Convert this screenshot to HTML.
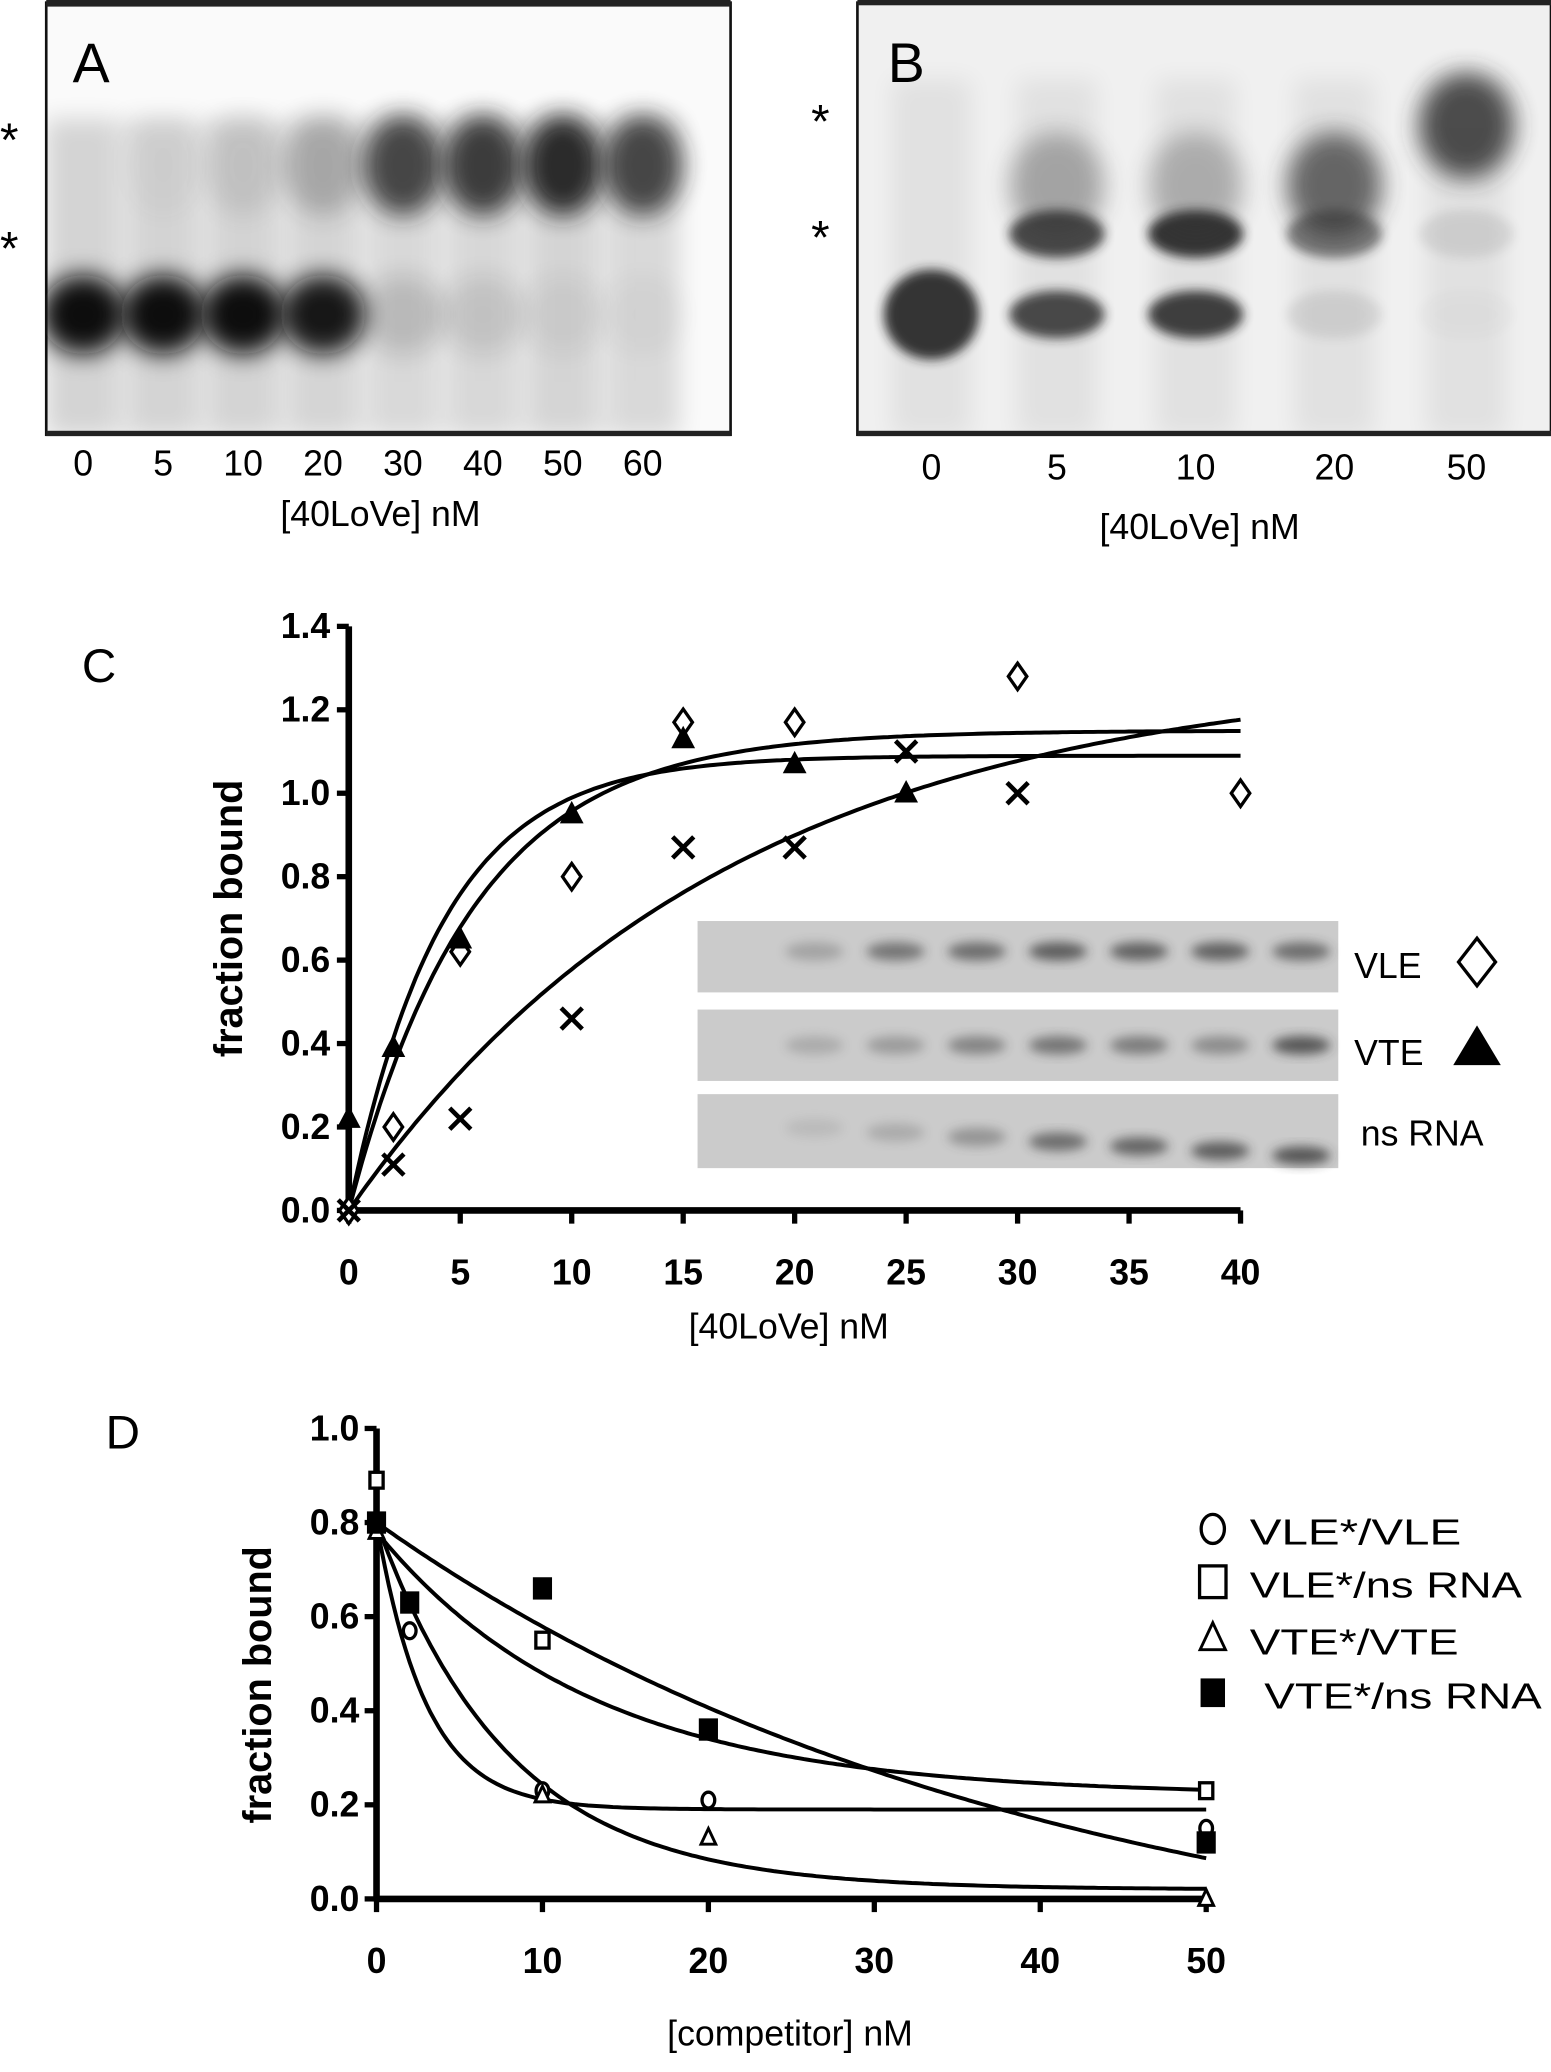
<!DOCTYPE html>
<html><head><meta charset="utf-8"><style>
html,body{margin:0;padding:0;background:#fff;}
svg{display:block;}
text{font-family:"Liberation Sans",sans-serif;}
.tk{font-family:"Liberation Sans Narrow","Liberation Sans",sans-serif;font-weight:bold;font-size:27px;}
.lb{font-family:"Liberation Sans Narrow","Liberation Sans",sans-serif;font-size:27px;}
</style></head><body>
<svg id="fig" width="1551" height="2072" viewBox="0 0 1174 1568" preserveAspectRatio="none" xmlns="http://www.w3.org/2000/svg">
<defs>
<filter id="b1" x="-50%" y="-50%" width="200%" height="200%"><feGaussianBlur stdDeviation="9"/></filter>
<filter id="b2" x="-50%" y="-50%" width="200%" height="200%"><feGaussianBlur stdDeviation="4"/></filter>
<clipPath id="clipA"><rect x="35" y="4" width="518" height="324"/></clipPath>
<clipPath id="clipB"><rect x="649" y="4" width="525" height="324"/></clipPath>
</defs>
<rect width="1174" height="1568" fill="#fff"/>
<g id="panelA"></g>
<g id="panelB"></g>
<g id="panelC"></g>
<g id="panelD"></g>
</svg>
<script>
// ---- Gel data ----
const gelALanes = ["0","5","10","20","30","40","50","60"];
const gelAFree = [1, 1, 1, 0.95, 0.15, 0.1, 0.05, 0.03];
const gelABound = [0, 0.03, 0.1, 0.25, 0.8, 0.85, 0.95, 0.8];
const gelBLanes = ["0","5","10","20","50"];
const gelBFree = [0.9, 0.8, 0.85, 0.1, 0.02];
const gelBMid = [0, 0.8, 0.9, 0.55, 0.1];
const gelBTop = [0, 0.35, 0.3, 0.7, 0.85];
// ---- Chart C data ----
const cXTicks = [0,5,10,15,20,25,30,35,40];
const cYTicks = ["0.0","0.2","0.4","0.6","0.8","1.0","1.2","1.4"];
const vleX = [0,2,5,10,15,20,30,40];
const vleY = [0,0.2,0.62,0.8,1.17,1.17,1.28,1.0];
const vteX = [0,2,5,10,15,20,25];
const vteY = [0.22,0.39,0.65,0.95,1.13,1.07,1.0];
const nsX = [0,2,5,10,15,20,25,30];
const nsY = [0,0.11,0.22,0.46,0.87,0.87,1.1,1.0];
const cFitBmax = [1.15, 1.09, 1.3];
const cFitTau = [5.6, 4.2, 17];
const insetVLE = [0,0.25,0.55,0.6,0.7,0.68,0.68,0.6];
const insetVTE = [0,0.2,0.3,0.45,0.55,0.5,0.4,0.75];
const insetNS = [0,0.1,0.2,0.35,0.6,0.65,0.7,0.75];
// ---- Chart D data ----
const dXTicks = [0,10,20,30,40,50];
const dYTicks = ["0.0","0.2","0.4","0.6","0.8","1.0"];
const circX = [2,10,20,50];
const circY = [0.57,0.23,0.21,0.15];
const osqX = [0,10,50];
const osqY = [0.89,0.55,0.23];
const triX = [0,10,20,50];
const triY = [0.78,0.22,0.13,0.0];
const fsqX = [0,2,10,20,50];
const fsqY = [0.8,0.63,0.66,0.36,0.12];
const dFitTop = [0.8, 0.8, 0.78, 0.8];
const dFitBottom = [0.19, 0.02, 0.22, -0.2];
const dFitTau = [3.0, 8.0, 13.0, 40.0];
const legendLabels = ["VLE*/VLE","VLE*/ns RNA","VTE*/VTE","VTE*/ns RNA"];

const NS="http://www.w3.org/2000/svg";
function mk(tag, attrs, parent, txt){const e=document.createElementNS(NS,tag);for(const k in attrs)e.setAttribute(k,attrs[k]);if(txt!==undefined)e.textContent=txt;parent.appendChild(e);return e;}

// ---- Gel A ----
const gA=document.getElementById('panelA');
mk('rect',{x:35,y:2,width:518,height:327,fill:'#fafafa',stroke:'#111','stroke-width':2},gA);
const gAc=mk('g',{'clip-path':'url(#clipA)'},gA);
const aX0=63, aDX=60.5;
const aLaneX=i=>aX0+i*aDX;
gelALanes.forEach((l,i)=>{
  const x=aLaneX(i);
  const sm=mk('rect',{x:x-28,y:90,width:56,height:240,fill:'#000',opacity:0.05+0.1*Math.max(gelAFree[i],gelABound[i]),filter:'url(#b1)'},gAc);
  
  
  const f=mk('ellipse',{cx:x,cy:238,rx:32,ry:30,fill:'#111',opacity:gelAFree[i],filter:'url(#b1)'},gAc);
  
  
  const b=mk('ellipse',{cx:x,cy:125,rx:30,ry:38,fill:'#222',opacity:gelABound[i],filter:'url(#b1)'},gAc);
  
  
  const t=mk('text',{x:x,y:360,'text-anchor':'middle',class:'lb','font-size':22},gA,l);
  
  
});
mk('rect',{x:35,y:0,width:518,height:5,fill:'#222'},gA);
mk('rect',{x:35,y:326,width:518,height:4,fill:'#222'},gA);
mk('text',{x:55,y:62,'font-size':42},gA,'A');
mk('text',{x:288,y:398,'text-anchor':'middle',class:'lb','font-size':28},gA,'[40LoVe] nM');
mk('text',{x:0,y:118,'font-size':36},gA,'*');
mk('text',{x:0,y:200,'font-size':36},gA,'*');

// ---- Gel B ----
const gB=document.getElementById('panelB');
mk('rect',{x:649,y:2,width:525,height:327,fill:'#f0f0f0',stroke:'#111','stroke-width':2},gB);
const gBc=mk('g',{'clip-path':'url(#clipB)'},gB);
const bOff=[0,95,200,305,405];
gelBLanes.forEach((l,i)=>{
  const x=705+bOff[i];
  mk('rect',{x:x-30,y:60,width:60,height:270,fill:'#000',opacity:0.06,filter:'url(#b1)'},gBc);
  const f=mk('ellipse',{cx:x,cy:238,rx:36,ry:i===0?34:18,fill:'#222',opacity:gelBFree[i],filter:'url(#b2)'},gBc);
  
  
  const m=mk('ellipse',{cx:x,cy:177,rx:36,ry:18,fill:'#222',opacity:gelBMid[i],filter:'url(#b2)'},gBc);
  
  
  const tp=mk('ellipse',{cx:x,cy:i===4?95:140,rx:36,ry:40,fill:'#333',opacity:gelBTop[i],filter:'url(#b1)'},gBc);
  
  
  const t=mk('text',{x:x,y:363,'text-anchor':'middle',class:'lb','font-size':22},gB,l);
  
  
});
mk('rect',{x:649,y:0,width:525,height:4,fill:'#222'},gB);
mk('rect',{x:649,y:326,width:525,height:4,fill:'#222'},gB);
mk('text',{x:672,y:62,'font-size':42},gB,'B');
mk('text',{x:908,y:408,'text-anchor':'middle',class:'lb','font-size':28},gB,'[40LoVe] nM');
mk('text',{x:614,y:104,'font-size':36},gB,'*');
mk('text',{x:614,y:192,'font-size':36},gB,'*');

// ---- Chart C ----
const gC=document.getElementById('panelC');
const cx=v=>264+v*(939-264)/40, cy=v=>916-v*(916-474)/1.4;
mk('text',{x:62,y:516,'font-size':36},gC,'C');
const strips=[[697,insetVLE],[764,insetVTE],[828,insetNS]];
strips.forEach((s,si)=>{
  const r=mk('rect',{x:528,y:s[0],width:485,height:si===2?56:54,fill:'#cbcbcb'},gC);
  
  
  s[1].forEach((v,i)=>{
    const bx=555+i*(985-555)/7;
    const by=s[0]+(si===0?23:si===1?27:22+i*3.5);
    const e=mk('ellipse',{cx:bx,cy:by,rx:22,ry:7,fill:'#333',opacity:v,filter:'url(#b2)'},gC);
    
    
  });
});
mk('text',{x:1025,y:740,class:'lb','font-size':30},gC,'VLE');
mk('path',{d:'M1118 710 L1132 728 L1118 746 L1104 728 Z',fill:'none',stroke:'#000','stroke-width':2.5},gC);
mk('text',{x:1025,y:806,class:'lb','font-size':30},gC,'VTE');
mk('path',{d:'M1118 776 L1136 806 L1100 806 Z',fill:'#000'},gC);
mk('text',{x:1030,y:867,class:'lb','font-size':30},gC,'ns RNA');
mk('line',{x1:264,y1:474,x2:264,y2:918,stroke:'#000','stroke-width':5},gC);
mk('line',{x1:262,y1:916,x2:939,y2:916,stroke:'#000','stroke-width':5},gC);
cYTicks.forEach(t=>{
  const y=cy(parseFloat(t));
  mk('line',{x1:255,y1:y,x2:264,y2:y,stroke:'#000','stroke-width':4},gC);
  const e=mk('text',{x:250,y:y+9,'text-anchor':'end',class:'tk'},gC,t);
  
  
});
cXTicks.forEach(t=>{
  const x=cx(t);
  mk('line',{x1:x,y1:916,x2:x,y2:926,stroke:'#000','stroke-width':4},gC);
  const e=mk('text',{x:x,y:972,'text-anchor':'middle',class:'tk'},gC,String(t));
  
  
});
mk('text',{x:597,y:1013,'text-anchor':'middle',class:'lb','font-size':30},gC,'[40LoVe] nM');
mk('text',{x:0,y:0,'text-anchor':'middle','font-weight':'bold','font-size':30,transform:'translate(183,695) rotate(-90)'},gC,'fraction bound');
cFitBmax.forEach((B,k)=>{
  let d='';
  for(let i=0;i<=200;i++){const x=i*40/200;const y=B*(1-Math.exp(-x/cFitTau[k]));d+=(i?'L':'M')+cx(x).toFixed(1)+' '+cy(y).toFixed(1);}
  const p=mk('path',{d:d,fill:'none',stroke:'#000','stroke-width':3},gC);
  
  
});
vleX.forEach((v,i)=>{const x=cx(v),y=cy(vleY[i]);
  const p=mk('path',{d:`M${x} ${y-10} L${x+7} ${y} L${x} ${y+10} L${x-7} ${y} Z`,fill:'#fff',stroke:'#000','stroke-width':2.5},gC);
  
  });
vteX.forEach((v,i)=>{const x=cx(v),y=cy(vteY[i]);
  const p=mk('path',{d:`M${x} ${y-10} L${x+9} ${y+7} L${x-9} ${y+7} Z`,fill:'#000'},gC);
  
  });
nsX.forEach((v,i)=>{const x=cx(v),y=cy(nsY[i]);
  const p=mk('path',{d:`M${x-8} ${y-8} L${x+8} ${y+8} M${x+8} ${y-8} L${x-8} ${y+8}`,stroke:'#000','stroke-width':3.5},gC);
  
  });

// ---- Chart D ----
const gD=document.getElementById('panelD');
const dx=v=>285+v*(913-285)/50, dy=v=>1437-v*(1437-1081);
mk('text',{x:80,y:1096,'font-size':36},gD,'D');
mk('line',{x1:285,y1:1081,x2:285,y2:1439,stroke:'#000','stroke-width':5},gD);
mk('line',{x1:283,y1:1437,x2:915,y2:1437,stroke:'#000','stroke-width':5},gD);
dYTicks.forEach(t=>{
  const y=dy(parseFloat(t));
  mk('line',{x1:276,y1:y,x2:285,y2:y,stroke:'#000','stroke-width':4},gD);
  const e=mk('text',{x:272,y:y+9,'text-anchor':'end',class:'tk'},gD,t);
  
  
});
dXTicks.forEach(t=>{
  const x=dx(t);
  mk('line',{x1:x,y1:1437,x2:x,y2:1447,stroke:'#000','stroke-width':4},gD);
  const e=mk('text',{x:x,y:1493,'text-anchor':'middle',class:'tk'},gD,String(t));
  
  
});
mk('text',{x:598,y:1548,'text-anchor':'middle',class:'lb','font-size':30},gD,'[competitor] nM');
mk('text',{x:0,y:0,'text-anchor':'middle','font-weight':'bold','font-size':30,transform:'translate(205,1275) rotate(-90)'},gD,'fraction bound');
dFitTop.forEach((T,k)=>{
  let d='';const Bt=dFitBottom[k];
  for(let i=0;i<=200;i++){const x=i*50/200;const y=Bt+(T-Bt)*Math.exp(-x/dFitTau[k]);d+=(i?'L':'M')+dx(x).toFixed(1)+' '+dy(y).toFixed(1);}
  const p=mk('path',{d:d,fill:'none',stroke:'#000','stroke-width':3},gD);
  
  
});
function circ(x,y,p,r){return mk('ellipse',{cx:x,cy:y,rx:r*0.8,ry:r,fill:'#fff',stroke:'#000','stroke-width':2.5},p);}
function sq(x,y,p,f,s){return mk('rect',{x:x-s,y:y-s*1.2,width:2*s,height:2.4*s,fill:f,stroke:'#000','stroke-width':2.5},p);}
function tri(x,y,p,s){return mk('path',{d:`M${x} ${y-s} L${x+s*0.8} ${y+s*0.7} L${x-s*0.8} ${y+s*0.7} Z`,fill:'#fff',stroke:'#000','stroke-width':2.2},p);}
circX.forEach((v,i)=>{const e=circ(dx(v),dy(circY[i]),gD,6);
  
  });
osqX.forEach((v,i)=>{const e=sq(dx(v),dy(osqY[i]),gD,'#fff',5);
  
  });
triX.forEach((v,i)=>{const e=tri(dx(v),dy(triY[i]),gD,7);
  
  });
fsqX.forEach((v,i)=>{const e=sq(dx(v),dy(fsqY[i]),gD,'#000',6);
  
  });
const legY=[1157,1197,1240,1281];
const legW=[160,206,158,210];
legendLabels.forEach((l,i)=>{
  const y=legY[i];
  let m;
  if(i===0)m=circ(918,y,gD,11);
  else if(i===1)m=sq(918,y,gD,'#fff',10);
  else if(i===2)m=tri(918,y,gD,12);
  else m=sq(918,y,gD,'#000',8);
  
  
  const t=mk('text',{x:i===3?957:946,y:y+12,class:'lb','font-size':33,textLength:legW[i],lengthAdjust:'spacingAndGlyphs'},gD,l);
  
  
});
</script>
</body></html>
